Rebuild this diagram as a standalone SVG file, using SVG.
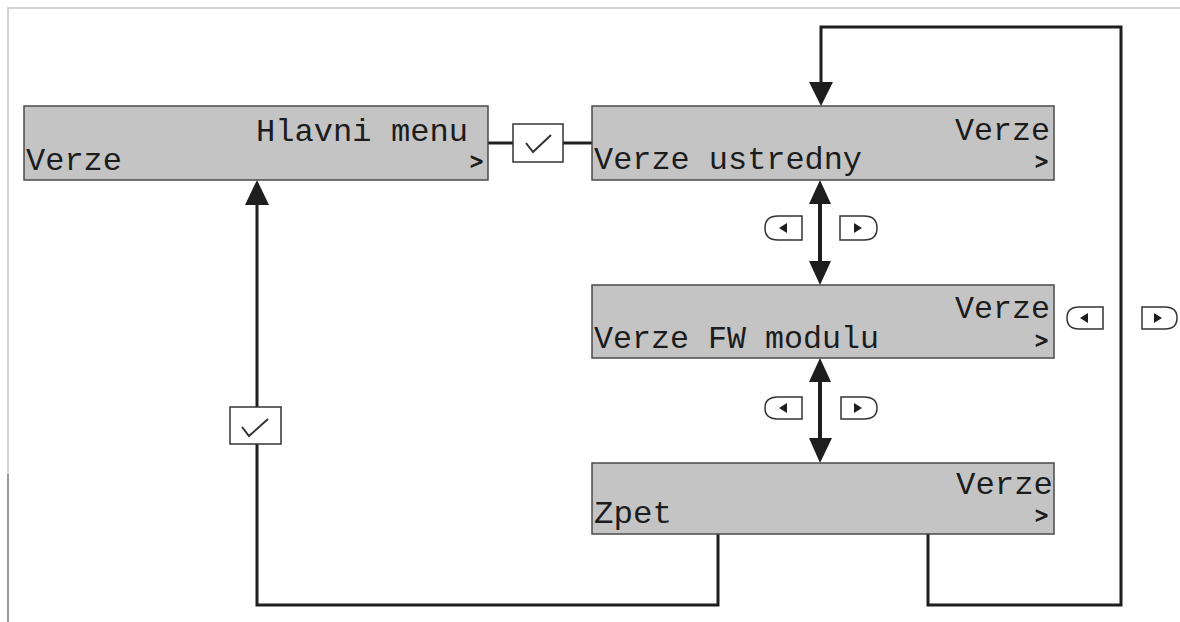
<svg xmlns="http://www.w3.org/2000/svg" width="1180" height="622" viewBox="0 0 1180 622">
<style>
.box{fill:#c4c4c4;stroke:#4a4a4a;stroke-width:1.5}
.t{font-family:"Liberation Mono","DejaVu Sans Mono",monospace;font-size:32px;fill:#1c1c1c}
.g{font-family:"Liberation Mono","DejaVu Sans Mono",monospace;font-size:22px;fill:#1c1c1c;stroke:#1c1c1c;stroke-width:1}
.ln{fill:none;stroke:#1e1e1e;stroke-width:3}
.dl{fill:none;stroke:#1e1e1e;stroke-width:4}
.ah{fill:#1e1e1e}
.ck{fill:#fff;stroke:#333;stroke-width:1.5}
.cm{fill:none;stroke:#333;stroke-width:2}
.btn{fill:#fff;stroke:#333;stroke-width:1.5}
.tri{fill:#1e1e1e}
.fr{stroke:#c8c8c8;stroke-width:1.5;fill:none}
</style>
<rect width="1180" height="622" fill="#fff"/>
<g id="frame">
<path class="fr" d="M7,8 H1180 M8,8 V474"/>
<path d="M8,474 V622" stroke="#777" stroke-width="1.5" fill="none"/>
</g>
<g id="connectors">
<path class="ln" d="M488,143 H513 M563,143 H592"/>
<path class="ln" d="M928,534 V605 H1121 V27 H821 V84"/>
<polygon class="ah" points="821,106 809,82 833,82"/>
<path class="ln" d="M718,534 V605 H257 V444 M257,407 V202"/>
<polygon class="ah" points="257,180 245,205 269,205"/>
<path class="dl" d="M820,200 V265"/>
<polygon class="ah" points="820,180 809,204 831,204"/>
<polygon class="ah" points="820,285 809,261 831,261"/>
<path class="dl" d="M820,378 V443"/>
<polygon class="ah" points="820,358 809,382 831,382"/>
<polygon class="ah" points="820,463 809,438 832,438"/>
</g>
<g id="check1">
<rect class="ck" x="513" y="124" width="50" height="38"/>
<polyline class="cm" points="526,143 533,152 551,135"/>
</g>
<g id="check2">
<rect class="ck" x="230" y="407" width="51" height="37"/>
<polyline class="cm" points="242,427 249,436 268,419"/>
</g>
<g id="buttons1">
<path class="btn" d="M802,216 H778 Q765,216 765,228 Q765,240 778,240 H802 Z"/>
<polygon class="tri" points="779,228 787,223 787,233"/>
<path class="btn" d="M840,216 H864 Q877,216 877,228 Q877,240 864,240 H840 Z"/>
<polygon class="tri" points="862,228 854,223 854,233"/>
</g>
<g id="buttons2">
<path class="btn" d="M802,397 H778 Q765,397 765,408 Q765,419 778,419 H802 Z"/>
<polygon class="tri" points="779,408 787,403 787,413"/>
<path class="btn" d="M841,397 H864 Q877,397 877,408 Q877,419 864,419 H841 Z"/>
<polygon class="tri" points="862,408 854,403 854,413"/>
</g>
<g id="buttons3">
<path class="btn" d="M1103,307 H1079 Q1067,307 1067,318 Q1067,329 1079,329 H1103 Z"/>
<polygon class="tri" points="1080,318 1088,313 1088,323"/>
<path class="btn" d="M1142,307 H1165 Q1177,307 1177,318 Q1177,329 1165,329 H1142 Z"/>
<polygon class="tri" points="1162,318 1154,313 1154,323"/>
</g>
<g id="hlavni-menu">
<rect class="box" x="24" y="106" width="464" height="74"/>
<text class="t" x="256" y="141" textLength="212" lengthAdjust="spacingAndGlyphs">Hlavni menu</text>
<text class="t" x="26" y="170" textLength="96" lengthAdjust="spacingAndGlyphs">Verze</text>
<text class="g" x="470" y="169">&gt;</text>
</g>
<g id="verze-ustredny">
<rect class="box" x="592" y="106" width="462" height="74"/>
<text class="t" x="955" y="140" textLength="95" lengthAdjust="spacingAndGlyphs">Verze</text>
<text class="t" x="594" y="169" textLength="268" lengthAdjust="spacingAndGlyphs">Verze ustredny</text>
<text class="g" x="1035" y="169">&gt;</text>
</g>
<g id="verze-fw-modulu">
<rect class="box" x="592" y="285" width="462" height="73"/>
<text class="t" x="955" y="318" textLength="95" lengthAdjust="spacingAndGlyphs">Verze</text>
<text class="t" x="594" y="348" textLength="285" lengthAdjust="spacingAndGlyphs">Verze FW modulu</text>
<text class="g" x="1035" y="348">&gt;</text>
</g>
<g id="zpet">
<rect class="box" x="592" y="463" width="462" height="71"/>
<text class="t" x="956" y="494" textLength="97" lengthAdjust="spacingAndGlyphs">Verze</text>
<text class="t" x="594" y="523" textLength="78" lengthAdjust="spacingAndGlyphs">Zpet</text>
<text class="g" x="1035" y="523">&gt;</text>
</g>
</svg>
